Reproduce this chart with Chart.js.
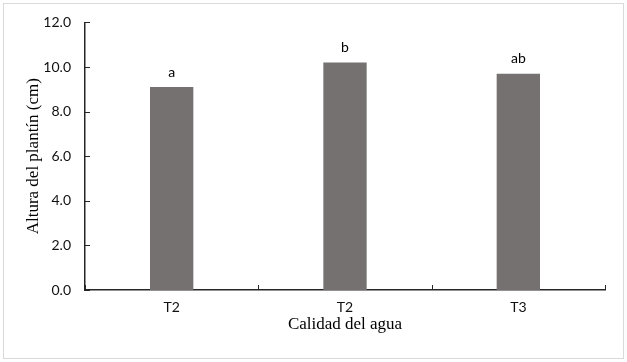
<!DOCTYPE html>
<html>
<head>
<meta charset="utf-8">
<script src="https://cdn.jsdelivr.net/npm/chart.js@4/dist/chart.umd.min.js"></script>
<style>
  html, body { margin: 0; padding: 0; background: #fff; }
  #wrap { width: 627px; height: 362px; }
</style>
</head>
<body>
<div id="wrap"><canvas id="chart" width="627" height="362"></canvas></div>
<script>
// data
const categories = ['T2', 'T2', 'T3'];
const heights = [9.1, 10.2, 9.7];
const letters = ['a', 'b', 'ab'];
const yTicks = [0, 2, 4, 6, 8, 10, 12];

const barColor = '#767171';
const axisColor = '#262626';

// light frame round the whole chart, like the Excel chart border
const framePlugin = {
  id: 'frame',
  beforeDraw(chart) {
    const ctx = chart.ctx;
    ctx.save();
    ctx.fillStyle = '#fff';
    ctx.fillRect(0, 0, chart.width, chart.height);
    ctx.strokeStyle = '#d9d9d9';
    ctx.lineWidth = 1;
    ctx.strokeRect(3.5, 3.5, chart.width - 7, chart.height - 7);
    ctx.restore();
  }
};

// tick marks pointing into the plot
const tickPlugin = {
  id: 'innerTicks',
  afterDraw(chart) {
    const ctx = chart.ctx;
    const x = chart.scales.x, y = chart.scales.y;
    ctx.save();
    ctx.strokeStyle = axisColor;
    ctx.lineWidth = 1;
    ctx.beginPath();
    yTicks.forEach(v => {
      const py = Math.round(y.getPixelForValue(v)) + 0.5;
      ctx.moveTo(x.left, py);
      ctx.lineTo(x.left + 5, py);
    });
    for (let i = 0; i <= categories.length; i++) {
      const px = Math.round(x.getPixelForValue(i - 0.5)) + 0.5;
      ctx.moveTo(px, y.bottom);
      ctx.lineTo(px, y.bottom - 5);
    }
    ctx.stroke();
    ctx.restore();
  }
};

// significance letters above bars
const letterPlugin = {
  id: 'letters',
  afterDatasetsDraw(chart) {
    const ctx = chart.ctx;
    const meta = chart.getDatasetMeta(0);
    ctx.save();
    ctx.font = '14px Lato';
    ctx.fillStyle = '#000';
    ctx.textAlign = 'center';
    ctx.textBaseline = 'middle';
    meta.data.forEach((bar, i) => {
      ctx.fillText(letters[i], bar.x, bar.y - 15);
    });
    ctx.restore();
  }
};

new Chart(document.getElementById('chart'), {
  type: 'bar',
  data: {
    labels: categories,
    datasets: [{
      data: heights,
      backgroundColor: barColor,
      borderWidth: 0,
      barPercentage: 0.25,
      categoryPercentage: 1
    }]
  },
  options: {
    responsive: false,
    animation: false,
    layout: { padding: { top: 18, right: 22, left: 0, bottom: 0 } },
    plugins: { legend: { display: false }, tooltip: { enabled: false } },
    scales: {
      x: {
        grid: { display: false, drawTicks: false },
        border: { display: true, color: axisColor, width: 1.5 },
        ticks: { color: '#111', font: { family: 'Lato', size: 14 }, padding: 9 },
        title: {
          display: true,
          text: 'Calidad del agua',
          color: '#000',
          font: { family: 'Liberation Serif', size: 17 },
          padding: { top: 0, bottom: 27 }
        },
        afterFit(scale) { scale.height = 72; }
      },
      y: {
        min: 0,
        max: 12,
        afterBuildTicks(scale) { scale.ticks = yTicks.map(v => ({ value: v })); },
        grid: { display: false, drawTicks: false },
        border: { display: true, color: axisColor, width: 1.5 },
        ticks: {
          color: '#111',
          font: { family: 'Lato', size: 14 },
          padding: 14,
          callback: v => v.toFixed(1)
        },
        title: {
          display: true,
          text: 'Altura del plantín (cm)',
          color: '#000',
          font: { family: 'Liberation Serif', size: 17 },
          padding: { top: 23, bottom: 0 }
        },
        afterFit(scale) { scale.width = 85; }
      }
    }
  },
  plugins: [framePlugin, tickPlugin, letterPlugin]
});
</script>
</body>
</html>
